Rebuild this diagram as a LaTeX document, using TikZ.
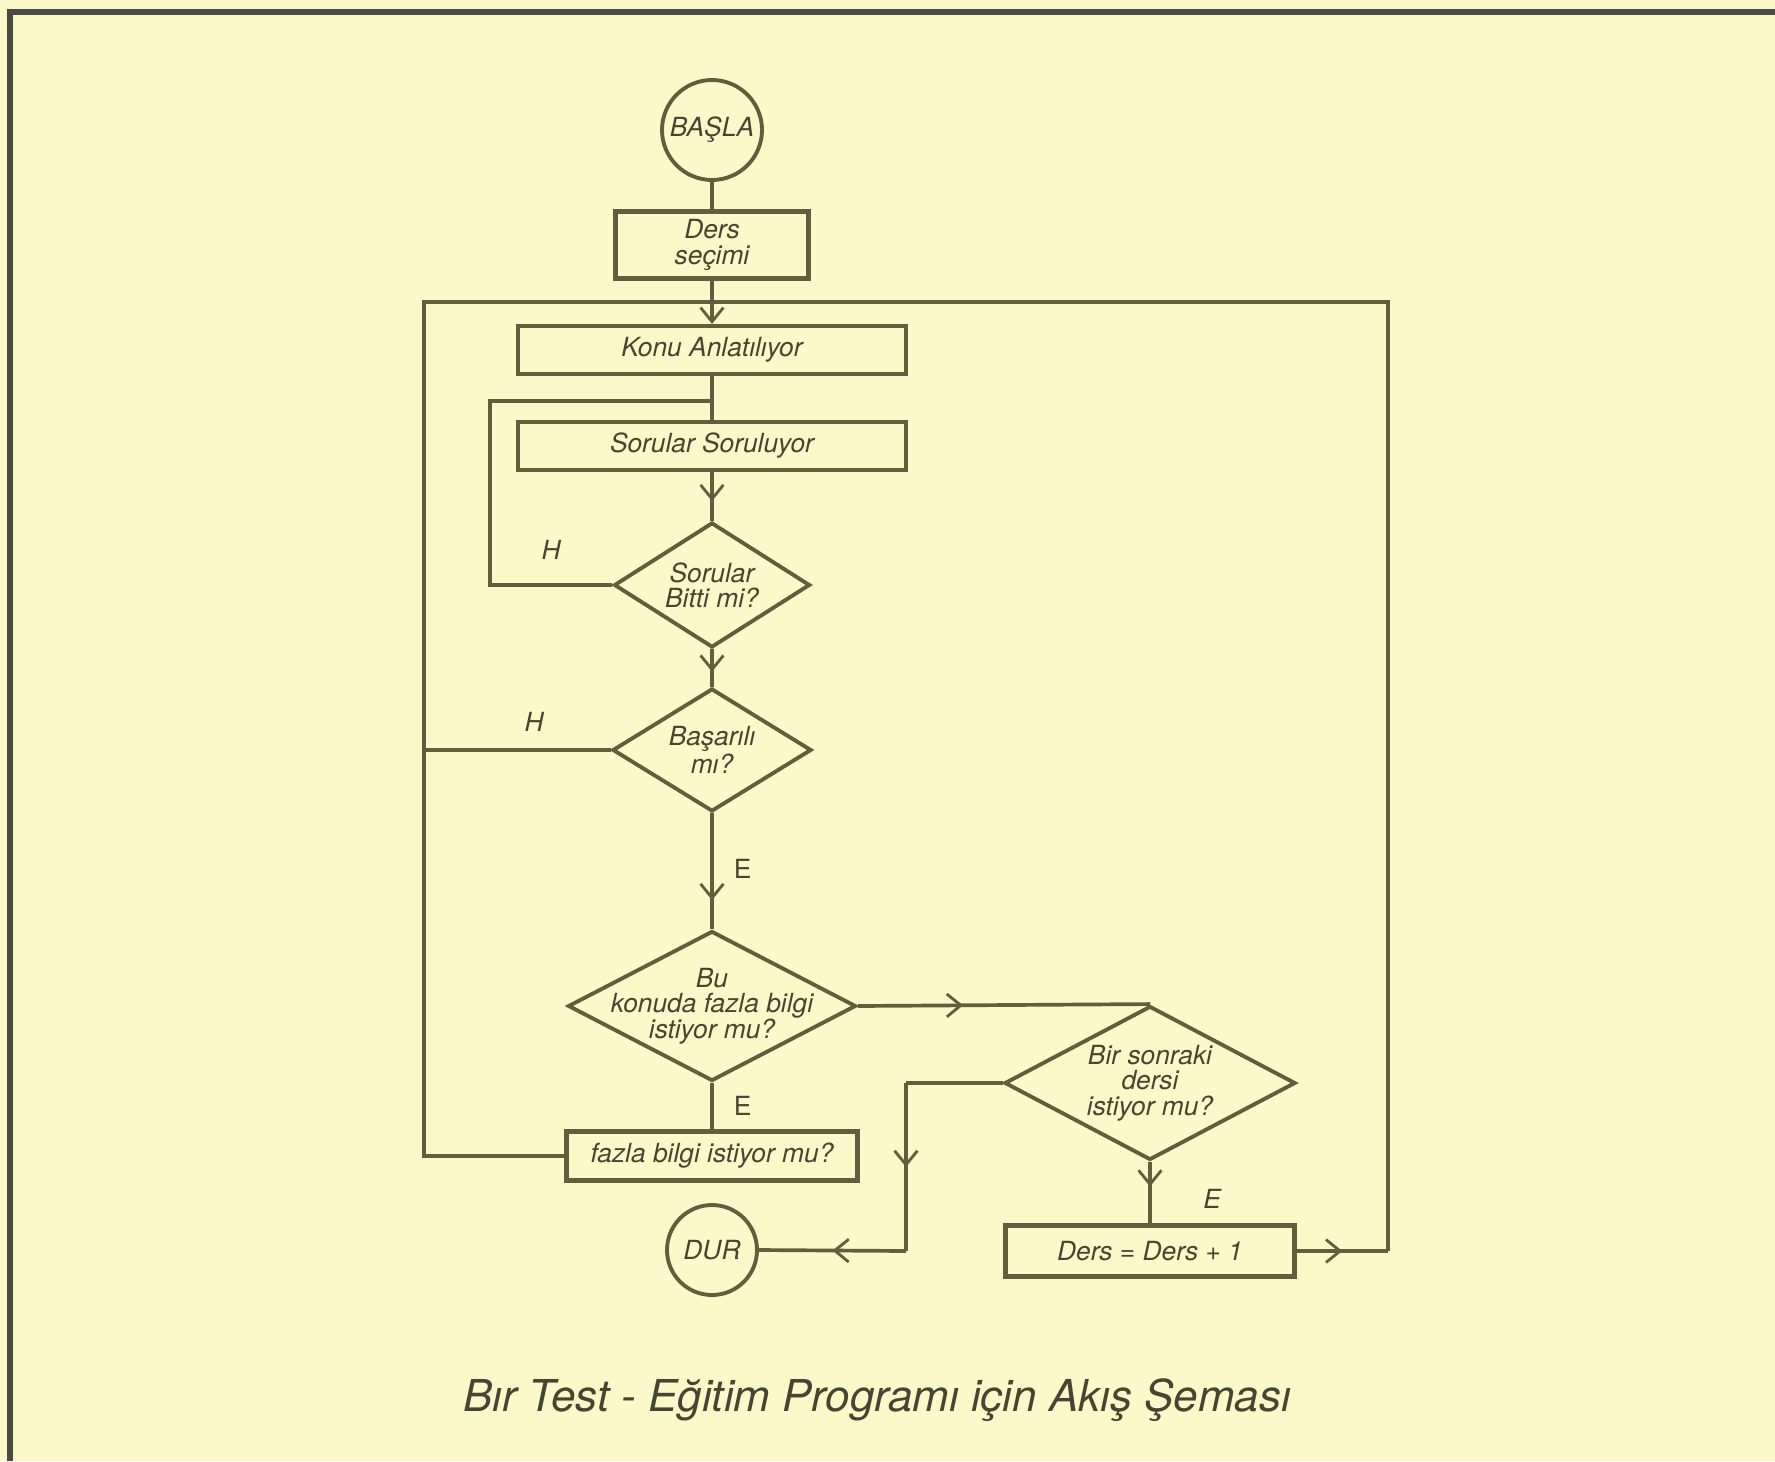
\documentclass[tikz,border=0pt]{standalone}
\usepackage{fontspec}
\setmainfont{TeX Gyre Heros}
\usetikzlibrary{arrows.meta,positioning,calc,shapes.geometric,decorations.markings}
\definecolor{paper}{RGB}{251,248,202}
\definecolor{ink}{RGB}{98,93,60}
\definecolor{textink}{RGB}{72,68,50}
\definecolor{framegray}{RGB}{74,74,68}

\begin{document}
\begin{tikzpicture}[x=0.02cm,y=-0.02cm,>={Straight Barb[length=8pt,width=13pt,line width=1.6pt]},
    every node/.style={font=\fontsize{15}{14.5}\selectfont\itshape,text=textink},
    line/.style={draw=ink,line width=2.1pt},
    box/.style={rectangle,draw=ink,line width=2.4pt,inner sep=0pt,align=center},
    decision/.style={diamond,draw=ink,line width=2.2pt,inner sep=0pt},
    terminal/.style={circle,draw=ink,line width=2.2pt,inner sep=0pt},
    upright/.style={font=\fontsize{15}{15}\selectfont\upshape},
    midarrow/.style={postaction={decorate},decoration={markings,mark=at position #1 with {\arrow{>}}}},
    midarrow/.default=0.5]
    \def\u{0.02cm}\def\cx{712}
    \useasboundingbox (0,0) rectangle (1775,1461);
    \fill[paper] (0,0) rectangle (1775,1461);
    \draw[framegray,line width=3.4pt] (10,1461) -- (10,12) -- (1775,12);
    % main column
    \node[terminal,minimum size={100*\u}] (basla) at (\cx,130) {BAŞLA};
    \node[box,minimum width={193*\u},minimum height={67*\u}] (ders) at (\cx,245) {Ders\\seçimi};
    \node[box,minimum width={388*\u},minimum height={48*\u}] (konu) at (\cx,350) {Konu Anlatılıyor};
    \node[box,minimum width={388*\u},minimum height={48*\u}] (soru) at (\cx,446) {Sorular Soruluyor};
    \node[decision,minimum width={196*\u},minimum height={125*\u},label={[align=center]center:{Sorular\\Bitti mi?}}] (bitti) at (\cx,585) {};
    \node[decision,minimum width={199*\u},minimum height={123*\u},label={[align=center]center:{Başarılı\\mı?}}] (basarili) at (\cx,750) {};
    \node[decision,minimum width={288*\u},minimum height={150*\u},label={[align=center]center:{Bu\\konuda fazla bilgi\\istiyor mu?}}] (fazla) at (\cx,1006) {};
    \node[box,minimum width={291*\u},minimum height={49*\u}] (istek) at (\cx,1156) {fazla bilgi istiyor mu?};
    \node[terminal,minimum size={90*\u}] (dur) at (\cx,1250) {DUR};
    % right branch
    \node[decision,minimum width={291*\u},minimum height={154*\u},label={[align=center]center:{Bir sonraki\\dersi\\istiyor mu?}}] (sonraki) at (1150,1083) {};
    \node[box,minimum width={289*\u},minimum height={51*\u}] (artir) at (1150,1251) {Ders = Ders + 1};
    \node[font=\fontsize{25}{25}\selectfont\itshape] (baslik) at (877,1400) {Bır Test - Eğitim Programı için Akış Şeması};
    \coordinate (sol) at (424,302);
    \coordinate (sag) at (1388,302);
    \coordinate (ic) at (490,401);
    \coordinate (birles) at (\cx,401);
    \coordinate (ara) at (906,1083);
    \coordinate (alt) at (906,1251);
    \coordinate (sagalt) at (1388,1251);
    \draw[line] (basla) -- (ders);
    \draw[line,->] (ders) -- (konu);
    \draw[line] (konu) -- (soru);
    \draw[line,midarrow=0.6] (soru) -- (bitti);
    \draw[line,midarrow=0.6] (bitti) -- (basarili);
    \draw[line,midarrow=0.75] (basarili) -- (fazla) node[pos=0.48,right=8pt,upright]{E};
    \draw[line] (fazla) -- (istek) node[midway,right=8pt,upright]{E};
    \draw[line] (bitti.west) -| node[pos=0.25,above=10pt]{H} (ic) -- (birles);
    \draw[line] (basarili.west) -- (basarili.west -| sol) node[pos=0.41,above=6pt]{H};
    \draw[line] (istek.west) -| (sol) -- (sag) -- (sagalt);
    \draw[line,midarrow=0.5] (artir.east) -- (sagalt);
    \draw[line,midarrow=0.36] (fazla.east) -- (sonraki.north);
    \draw[line] (sonraki.west) -- (ara);
    \draw[line,midarrow=0.5] (ara) -- (alt);
    \draw[line,midarrow=0.5] (alt) -- (dur.east);
    \draw[line,midarrow=0.4] (sonraki.south) -- (artir.north) node[pos=0.6,right=26pt]{E};
\end{tikzpicture}
\end{document}
